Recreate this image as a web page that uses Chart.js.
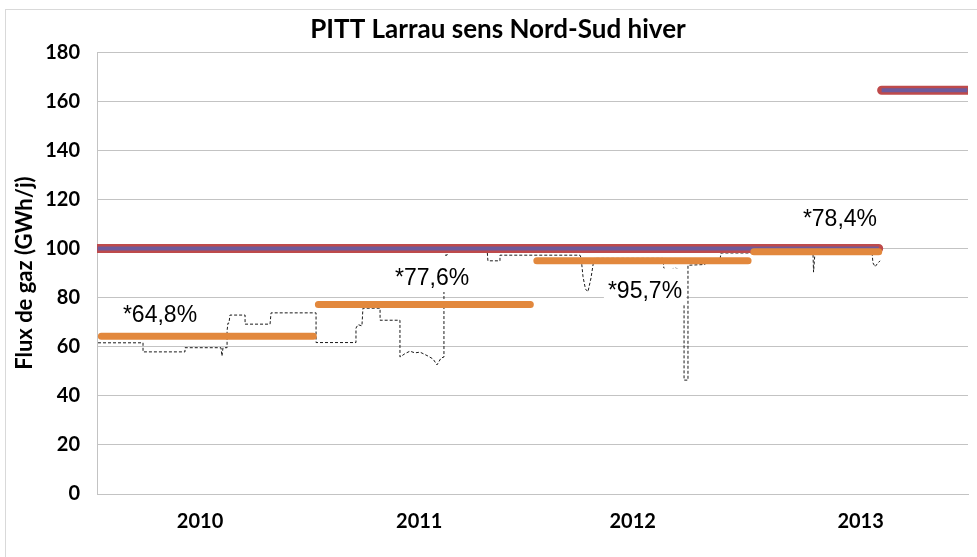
<!DOCTYPE html>
<html><head><meta charset="utf-8">
<script src="https://cdn.jsdelivr.net/npm/chart.js@4"></script>
<style>
html,body{margin:0;padding:0;background:#fff;}
#wrap{position:relative;width:977px;height:557px;overflow:hidden;background:#fff;}
#frame{position:absolute;left:5px;top:9px;width:1100px;height:700px;border:1px solid #D9D9D9;box-sizing:border-box;pointer-events:none;}
canvas{position:absolute;left:0;top:0;}
</style></head><body>
<div id="wrap"><canvas id="c" width="977" height="557"></canvas><div id="frame"></div></div>
<script>
// ---- data (x in days from start of winter 2010, y in GWh/j) ----
const years = ['2010', '2011', '2012', '2013'];
const yearTickDays = [71, 222, 369, 526];
const yTicks = [0, 20, 40, 60, 80, 100, 120, 140, 160, 180];

const fluxDays = [
  0.7, 31.7, 31.7, 60.6, 60.6, 85.4, 86.1, 86.8, 89.6, 89.6, 90.2, 90.9, 91.6, 102.0, 102.0, 119.2, 119.9, 150.9, 150.9,
  178.4, 178.4, 179.8, 182.5, 183.2, 195.0, 195.0, 208.7, 208.7, 212.2, 215.6, 219.0, 222.5, 226.0, 228.0, 231.5, 234.2, 237.0, 239.0, 239.0, 241.1, 241.8, 268.7, 269.3, 277.6, 277.6, 300.3,
  332.7, 333.5, 334.8, 336.5, 338.2, 340.3, 342.4, 389.9, 390.5, 394.0, 398.0, 402.0, 404.4, 404.4, 407.1, 407.1, 418.8, 419.5, 429.2, 429.9, 450.5,
  493.2, 493.6, 494.6, 533.9, 534.5, 536.0, 537.5, 539.4
];
const fluxValues = [
  61.6, 61.6, 57.9, 57.9, 59.6, 59.6, 56.2, 59.6, 59.6, 66.5, 69.6, 69.6, 72.9, 72.9, 69.2, 69.2, 73.8, 73.8, 61.7,
  61.7, 67.6, 69.0, 68.5, 75.7, 75.7, 70.8, 70.8, 55.8, 57.2, 58.2, 57.5, 57.8, 56.8, 56.2, 55.0, 52.6, 55.4, 55.8, 97.3, 97.3, 99.6, 99.6, 95.0, 95.0, 97.3, 97.3,
  97.3, 96.2, 88.5, 83.5, 82.4, 88.0, 96.0, 96.0, 92.0, 90.8, 92.2, 91.2, 91.5, 46.4, 46.4, 93.2, 93.5, 95.5, 95.8, 98.2, 98.2,
  98.5, 90.4, 98.5, 98.5, 94.2, 92.6, 93.8, 95.0
];

const capDays = [0.5, 538.5, 539.5, 540.5, 599.5];
const capValues = [100, 100, null, 164.5, 164.5];

const avgDays = [3, 149, 150.5, 152.5, 298.5, 300.5, 303, 448.5, 450.5, 452.5, 538.5];
const avgValues = [64.3, 64.3, null, 77.2, 77.2, null, 95.0, 95.0, null, 98.7, 98.7];

const pctTexts = ['*64,8%', '*77,6%', '*95,7%', '*78,4%'];
const pctDays = [43.4, 230.8, 377.5, 511.8];
const pctValues = [72.9, 88.0, 83.0, 112.0];

// ---- styles ----
const ORANGE = '#E2883D';
const PURPLE = '#6E5A9C';
const RED = '#BE4A4B';
const GRID = '#C3C3C3';
const LABEL_BOX = [false, true, true, false];
const TICK_FONT = {family: 'Lato, "Liberation Sans", sans-serif', size: 20, weight: 'bold'};

const pts = (xs, ys) => xs.map((d, i) => ({x: d, y: ys[i]}));

const pctLabels = {
  id: 'pctLabels',
  afterDatasetsDraw(chart) {
    const {ctx, scales: {x, y}} = chart;
    ctx.save();
    ctx.font = '23px "Liberation Sans", Arial, sans-serif';
    ctx.textAlign = 'center';
    ctx.textBaseline = 'middle';
    pctTexts.forEach((t, i) => {
      const px = x.getPixelForValue(pctDays[i]);
      const py = y.getPixelForValue(pctValues[i]);
      if (LABEL_BOX[i]) {
        const w = ctx.measureText(t).width;
        ctx.fillStyle = '#fff';
        ctx.fillRect(px - w / 2 - 4, py - 22, w + 8, 36);
      }
      ctx.fillStyle = '#000';
      ctx.fillText(t, px, py + 1);
    });
    ctx.restore();
  }
};

new Chart(document.getElementById('c'), {
  type: 'line',
  data: {
    datasets: [
      {label: 'moyenne', data: pts(avgDays, avgValues), borderColor: ORANGE, borderWidth: 7, borderCapStyle: 'round', pointRadius: 0, spanGaps: false, order: 0},
      {label: 'capacité', data: pts(capDays, capValues), borderColor: PURPLE, borderWidth: 4, borderCapStyle: 'butt', pointRadius: 0, spanGaps: false, order: 1},
      {label: 'capacité bord', data: pts(capDays, capValues), borderColor: RED, borderWidth: 9, borderCapStyle: 'round', pointRadius: 0, spanGaps: false, order: 2},
      {label: 'flux', data: pts(fluxDays, fluxValues), borderColor: '#1a1a1a', borderWidth: 1, borderDash: [3, 2], pointRadius: 0, tension: 0, order: 3}
    ]
  },
  options: {
    responsive: false,
    animation: false,
    events: [],
    layout: {padding: {left: 28, right: 9, top: 0, bottom: 0}},
    plugins: {
      legend: {display: false},
      tooltip: {enabled: false},
      title: {
        display: true,
        text: 'PITT Larrau sens Nord-Sud hiver',
        color: '#000',
        font: {family: 'Lato, "Liberation Sans", sans-serif', size: 26, weight: 'bold', lineHeight: 1.2},
        padding: {top: 14, bottom: 7}
      }
    },
    scales: {
      x: {
        type: 'linear', min: 0, max: 600,
        afterBuildTicks: s => { s.ticks = yearTickDays.map(v => ({value: v})); },
        afterFit: s => { s.height = 63; },
        ticks: {callback: (v, i) => years[i], autoSkip: false, maxRotation: 0, color: '#000', font: TICK_FONT, padding: 16},
        grid: {display: false, drawTicks: false},
        border: {display: true, color: GRID, width: 1}
      },
      y: {
        min: 0, max: 180,
        afterBuildTicks: s => { s.ticks = yTicks.map(v => ({value: v})); },
        afterFit: s => { s.width = 69; },
        ticks: {color: '#000', font: TICK_FONT, padding: 17},
        grid: {color: GRID, drawTicks: false},
        border: {display: true, color: GRID, width: 1},
        title: {display: true, text: 'Flux de gaz (GWh/j)', color: '#000', font: {family: 'Lato, "Liberation Sans", sans-serif', size: 22, weight: 'bold'}, padding: {top: -16, bottom: 0}}
      }
    }
  },
  plugins: [pctLabels]
});
</script>
</body></html>
